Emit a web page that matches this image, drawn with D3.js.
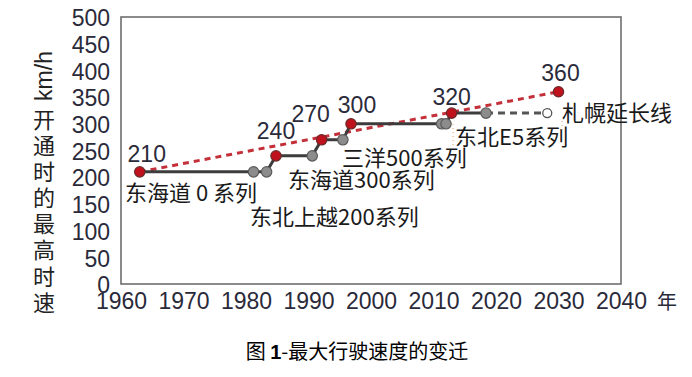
<!DOCTYPE html>
<html><head><meta charset="utf-8">
<script src="https://cdn.jsdelivr.net/npm/d3@7"></script>
<style>
body{margin:0;background:#fff;}
svg{display:block;}
</style></head>
<body>
<svg id="c" width="692" height="377"></svg>
<script>
// ---- data ----
const xTicks = [1960,1970,1980,1990,2000,2010,2020,2030,2040];
const yTicks = [0,50,100,150,200,250,300,350,400,450,500];
const stepYears  = [1963,1981.2,1983.3,1984.8,1990.6,1992.1,1995.5,1996.8,2011.3,2012,2012.9,2018.4];
const stepSpeeds = [210,210,210,240,240,270,270,300,300,300,320,320];
const stepKinds  = ['red','grey','grey','red','grey','red','grey','red','grey','grey','red','grey'];
const planYears  = [2018.4,2028.2];
const planSpeeds = [320,320];
const futureYear = 2030, futureSpeed = 360;
const trendYears = [1963,2030];
const trendSpeeds = [210,360];
const speedLabels = ['210','240','270','300','320','360'];
const seriesNames = ['东海道 0 系列','东北上越200系列','东海道300系列','三洋500系列','东北E5系列','札幌延长线'];
const yTitleUnit = 'km/h';
const yTitleChars = ['开','通','时','的','最','高','时','速'];
const xUnit = '年';
const caption = ['图 ','1','-最大行驶速度的变迁'];

// ---- layout ----
const L=121,R=621,T=17,B=284;
const svg=d3.select('#c');
const x=d3.scaleLinear().domain([1960,2040]).range([L,R]);
const y=d3.scaleLinear().domain([0,500]).range([B,T]);
const numFont='"Liberation Sans",Arial,sans-serif';
const cjkFont='"Noto Sans CJK SC",sans-serif';

// frame
svg.append('rect').attr('x',L).attr('y',T).attr('width',R-L).attr('height',B-T)
  .attr('fill','none').attr('stroke','#6e6e6e').attr('stroke-width',1.6);

// axes
const ya=svg.append('g').attr('transform',`translate(${L-11},0)`)
  .call(d3.axisLeft(y).tickValues(yTicks).tickSize(0).tickPadding(0).tickFormat(d3.format('d')));
ya.select('.domain').remove();
ya.selectAll('text').attr('font-family',numFont).attr('font-size',23).attr('fill','#2a2a3a').attr('dy','0.38em');

const xa=svg.append('g').attr('transform',`translate(0,${B})`)
  .call(d3.axisBottom(x).tickValues(xTicks).tickSize(0).tickPadding(0).tickFormat(d3.format('d')));
xa.select('.domain').remove();
xa.selectAll('text').attr('font-family',numFont).attr('font-size',23).attr('fill','#2a2a3a').attr('dy','0').attr('y',25);

svg.append('text').attr('x',667).attr('y',302).attr('dy','0.36em').attr('text-anchor','middle')
  .attr('font-family',cjkFont).attr('font-size',20).attr('fill','#2a2a3a').text(xUnit);

// y title
svg.append('text').attr('transform','translate(44,76) rotate(-90)').attr('text-anchor','middle').attr('dy','0.35em')
  .attr('font-family',numFont).attr('font-size',23).attr('fill','#222').text(yTitleUnit);
svg.selectAll('.yc').data(yTitleChars).enter().append('text')
  .attr('x',44).attr('y',(d,i)=>120+i*26.1).attr('dy','0.36em').attr('text-anchor','middle')
  .attr('font-family',cjkFont).attr('font-size',22).attr('fill','#222').text(d=>d);

// trend
const line=d3.line().x(d=>x(d[0])).y(d=>y(d[1]));
svg.append('path').datum(d3.zip(trendYears,trendSpeeds)).attr('d',line)
  .attr('fill','none').attr('stroke','#c4303a').attr('stroke-width',3).attr('stroke-dasharray','6,5');

// step line
svg.append('path').datum(d3.zip(stepYears,stepSpeeds)).attr('d',line)
  .attr('fill','none').attr('stroke','#3c3c3c').attr('stroke-width',3);
// planned
svg.append('path').datum(d3.zip(planYears,planSpeeds)).attr('d',line)
  .attr('fill','none').attr('stroke','#555').attr('stroke-width',3).attr('stroke-dasharray','7,5');
svg.append('path').datum([[planYears[1],planSpeeds[1]],[futureYear,futureSpeed]]).attr('d',line)
  .attr('fill','none').attr('stroke','#555').attr('stroke-width',1.5).attr('stroke-dasharray','5,14');

// markers
svg.selectAll('.pt').data(d3.zip(stepYears,stepSpeeds,stepKinds)).enter().append('circle')
  .attr('cx',d=>x(d[0])).attr('cy',d=>y(d[1])).attr('r',5.2)
  .attr('fill',d=>d[2]==='red'?'#c0121c':'#8c8c8c').attr('stroke',d=>d[2]==='red'?'#6a2a2a':'#5a5a5a').attr('stroke-width',1.2);
svg.append('circle').attr('cx',x(planYears[1])).attr('cy',y(planSpeeds[1])).attr('r',4.5)
  .attr('fill','#fff').attr('stroke','#555').attr('stroke-width',1.3);
svg.append('circle').attr('cx',x(futureYear)).attr('cy',y(futureSpeed)).attr('r',5.2)
  .attr('fill','#c0121c').attr('stroke','#6a2a2a').attr('stroke-width',1.2);

// speed labels at red points
const redPts=d3.zip(stepYears,stepSpeeds,stepKinds).filter(d=>d[2]==='red').concat([[futureYear,futureSpeed,'red']]);
const labOff=[[7,-18],[0,-25],[-11,-26],[6,-19],[0,-16],[2,-19]];
svg.selectAll('.sl').data(speedLabels).enter().append('text')
  .attr('x',(d,i)=>x(redPts[i][0])+labOff[i][0]).attr('y',(d,i)=>y(redPts[i][1])+labOff[i][1])
  .attr('dy','0.36em').attr('text-anchor','middle')
  .attr('font-family',numFont).attr('font-size',23).attr('fill','#2a2a3a').text(d=>d);

// series name labels
const namePos=[[125,193],[250,217],[288,180],[342,158],[455,137],[562,113]];
svg.selectAll('.sn').data(seriesNames).enter().append('text')
  .attr('x',(d,i)=>namePos[i][0]).attr('y',(d,i)=>namePos[i][1]).attr('dy','0.36em')
  .attr('font-family',cjkFont).attr('font-size',22).attr('fill','#1a1a1a').text(d=>d);

// faint leader dots
[[453,124,148],[562,121,130]].forEach(p=>{
  svg.append('line').attr('x1',p[0]).attr('x2',p[0]).attr('y1',p[1]).attr('y2',p[2])
    .attr('stroke','#e0a060').attr('stroke-width',1).attr('stroke-dasharray','1,3');
});

// caption
const cap=svg.append('text').attr('x',357).attr('y',352).attr('dy','0.36em').attr('text-anchor','middle')
  .attr('font-family',cjkFont).attr('font-size',20).attr('fill','#000');
cap.append('tspan').text(caption[0]);
cap.append('tspan').attr('font-weight','bold').attr('font-family',numFont).text(caption[1]);
cap.append('tspan').text(caption[2]);
</script>
</body></html>
